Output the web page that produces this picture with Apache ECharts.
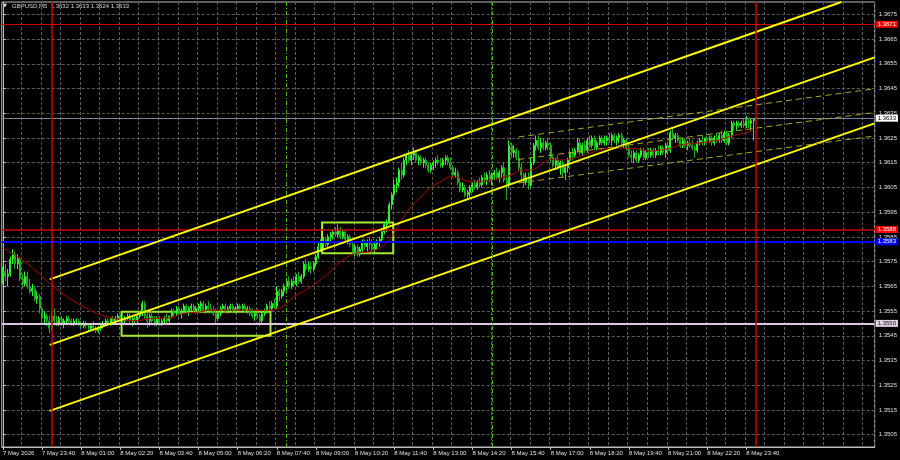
<!DOCTYPE html>
<html><head><meta charset="utf-8">
<script src="https://cdn.jsdelivr.net/npm/echarts@6/dist/echarts.min.js"></script>
<style>html,body{margin:0;padding:0;background:#000;}#c{width:900px;height:460px;}</style>
</head><body><div id="c"></div>
<script>
// ---- data (GBPUSD M5, bar 0 = 7 May 22:20) ----
const opens = [
1.3568,1.3571,1.3569,1.3570,1.3576,1.3578,1.3574,1.3576,1.3568,1.3566,
1.3569,1.3565,1.3563,1.3564,1.3560,1.3561,1.3556,1.3552,1.3553,1.3551,
1.3548,1.3553,1.3551,1.3550,1.3552,1.3550,1.3551,1.3552,1.3551,1.3550,
1.3551,1.3551,1.3550,1.3549,1.3550,1.3549,1.3548,1.3549,1.3548,1.3547,
1.3548,1.3549,1.3550,1.3551,1.3550,1.3552,1.3551,1.3552,1.3553,1.3552,
1.3551,1.3552,1.3553,1.3551,1.3552,1.3551,1.3553,1.3554,1.3558,1.3553,
1.3551,1.3553,1.3551,1.3550,1.3552,1.3550,1.3551,1.3552,1.3551,1.3553,
1.3555,1.3554,1.3556,1.3554,1.3555,1.3557,1.3555,1.3556,1.3557,1.3555,
1.3556,1.3557,1.3558,1.3555,1.3557,1.3556,1.3555,1.3554,1.3552,1.3554,
1.3556,1.3557,1.3555,1.3556,1.3557,1.3555,1.3556,1.3557,1.3556,1.3557,
1.3555,1.3556,1.3554,1.3553,1.3554,1.3553,1.3551,1.3554,1.3555,1.3557,
1.3556,1.3558,1.3557,1.3563,1.3561,1.3563,1.3565,1.3567,1.3565,1.3567,
1.3566,1.3569,1.3567,1.3569,1.3574,1.3572,1.3573,1.3572,1.3574,1.3577,
1.3581,1.3582,1.3584,1.3582,1.3585,1.3586,1.3587,1.3586,1.3588,1.3585,
1.3587,1.3584,1.3585,1.3582,1.3579,1.3581,1.3578,1.3580,1.3583,1.3581,
1.3583,1.3582,1.3580,1.3582,1.3583,1.3584,1.3587,1.3590,1.3591,1.3598,
1.3602,1.3606,1.3607,1.3612,1.3610,1.3616,1.3618,1.3616,1.3618,1.3619,
1.3616,1.3617,1.3615,1.3616,1.3614,1.3612,1.3614,1.3615,1.3616,1.3615,
1.3614,1.3616,1.3617,1.3615,1.3613,1.3610,1.3611,1.3607,1.3604,1.3605,
1.3602,1.3603,1.3605,1.3606,1.3605,1.3607,1.3606,1.3609,1.3608,1.3610,
1.3608,1.3610,1.3611,1.3609,1.3611,1.3613,1.3608,1.3606,1.3622,1.3619,
1.3620,1.3617,1.3613,1.3610,1.3607,1.3609,1.3606,1.3615,1.3622,1.3624,
1.3621,1.3623,1.3621,1.3623,1.3622,1.3617,1.3614,1.3616,1.3613,1.3615,
1.3611,1.3613,1.3616,1.3619,1.3618,1.3620,1.3623,1.3619,1.3622,1.3620,
1.3624,1.3622,1.3625,1.3621,1.3623,1.3625,1.3623,1.3624,1.3625,1.3624,
1.3626,1.3624,1.3625,1.3626,1.3623,1.3624,1.3621,1.3618,1.3617,1.3619,
1.3616,1.3618,1.3620,1.3617,1.3619,1.3618,1.3620,1.3618,1.3620,1.3619,
1.3621,1.3619,1.3622,1.3620,1.3627,1.3625,1.3626,1.3624,1.3622,1.3624,
1.3622,1.3623,1.3622,1.3621,1.3620,1.3623,1.3624,1.3623,1.3625,1.3624,
1.3625,1.3623,1.3625,1.3624,1.3626,1.3624,1.3627,1.3623,1.3626,1.3631,
1.3630,1.3631,1.3630,1.3631,1.3630,1.3632,1.3631,1.3632];
const highs = [
1.3573,1.3574,1.3572,1.3577,1.3580,1.3579,1.3578,1.3577,1.3570,1.3571,
1.3571,1.3568,1.3566,1.3565,1.3563,1.3562,1.3557,1.3555,1.3554,1.3553,
1.3555,1.3556,1.3553,1.3553,1.3553,1.3552,1.3553,1.3553,1.3552,1.3552,
1.3552,1.3552,1.3551,1.3551,1.3551,1.3550,1.3550,1.3551,1.3549,1.3549,
1.3550,1.3551,1.3552,1.3552,1.3552,1.3553,1.3553,1.3554,1.3554,1.3554,
1.3553,1.3554,1.3554,1.3553,1.3553,1.3554,1.3555,1.3559,1.3559,1.3555,
1.3554,1.3555,1.3553,1.3553,1.3553,1.3552,1.3553,1.3554,1.3553,1.3556,
1.3556,1.3557,1.3557,1.3556,1.3558,1.3558,1.3557,1.3558,1.3558,1.3557,
1.3558,1.3559,1.3559,1.3558,1.3559,1.3558,1.3557,1.3556,1.3555,1.3557,
1.3558,1.3558,1.3557,1.3558,1.3558,1.3557,1.3558,1.3558,1.3558,1.3558,
1.3557,1.3557,1.3556,1.3555,1.3556,1.3554,1.3555,1.3556,1.3558,1.3559,
1.3559,1.3560,1.3565,1.3564,1.3564,1.3566,1.3568,1.3569,1.3568,1.3569,
1.3570,1.3571,1.3570,1.3575,1.3576,1.3575,1.3575,1.3575,1.3578,1.3583,
1.3584,1.3585,1.3585,1.3586,1.3587,1.3588,1.3589,1.3590,1.3589,1.3588,
1.3588,1.3586,1.3586,1.3583,1.3582,1.3582,1.3581,1.3584,1.3584,1.3584,
1.3585,1.3584,1.3583,1.3584,1.3585,1.3588,1.3591,1.3592,1.3599,1.3603,
1.3608,1.3609,1.3613,1.3615,1.3617,1.3619,1.3620,1.3619,1.3621,1.3620,
1.3618,1.3618,1.3617,1.3617,1.3615,1.3615,1.3616,1.3617,1.3618,1.3617,
1.3617,1.3618,1.3618,1.3617,1.3614,1.3613,1.3612,1.3609,1.3607,1.3606,
1.3604,1.3606,1.3607,1.3608,1.3608,1.3609,1.3610,1.3611,1.3611,1.3612,
1.3611,1.3612,1.3613,1.3612,1.3614,1.3615,1.3610,1.3624,1.3623,1.3622,
1.3621,1.3620,1.3615,1.3611,1.3611,1.3611,1.3617,1.3623,1.3626,1.3626,
1.3625,1.3625,1.3624,1.3625,1.3623,1.3618,1.3617,1.3618,1.3616,1.3616,
1.3614,1.3617,1.3620,1.3621,1.3621,1.3625,1.3625,1.3623,1.3624,1.3625,
1.3626,1.3626,1.3626,1.3624,1.3626,1.3626,1.3626,1.3626,1.3627,1.3627,
1.3627,1.3626,1.3627,1.3627,1.3625,1.3625,1.3622,1.3620,1.3620,1.3620,
1.3619,1.3621,1.3621,1.3620,1.3621,1.3621,1.3621,1.3621,1.3622,1.3622,
1.3622,1.3623,1.3623,1.3628,1.3629,1.3627,1.3627,1.3625,1.3625,1.3625,
1.3624,1.3625,1.3624,1.3622,1.3624,1.3625,1.3626,1.3625,1.3626,1.3626,
1.3626,1.3626,1.3627,1.3627,1.3628,1.3628,1.3628,1.3627,1.3632,1.3632,
1.3632,1.3632,1.3632,1.3633,1.3634,1.3633,1.3633,1.3633];
const lows = [
1.3566,1.3567,1.3565,1.3569,1.3574,1.3572,1.3572,1.3567,1.3564,1.3565,
1.3564,1.3562,1.3561,1.3559,1.3558,1.3554,1.3550,1.3550,1.3549,1.3546,
1.3547,1.3550,1.3549,1.3549,1.3549,1.3548,1.3550,1.3550,1.3549,1.3549,
1.3550,1.3549,1.3548,1.3548,1.3548,1.3547,1.3547,1.3547,1.3546,1.3546,
1.3547,1.3548,1.3549,1.3549,1.3549,1.3550,1.3550,1.3551,1.3551,1.3550,
1.3550,1.3551,1.3550,1.3549,1.3550,1.3550,1.3552,1.3553,1.3552,1.3548,
1.3549,1.3550,1.3549,1.3549,1.3549,1.3549,1.3550,1.3550,1.3550,1.3552,
1.3553,1.3553,1.3553,1.3552,1.3554,1.3554,1.3553,1.3555,1.3554,1.3554,
1.3555,1.3555,1.3554,1.3554,1.3555,1.3554,1.3553,1.3550,1.3551,1.3553,
1.3555,1.3554,1.3554,1.3555,1.3554,1.3554,1.3555,1.3555,1.3555,1.3554,
1.3554,1.3553,1.3552,1.3551,1.3552,1.3549,1.3550,1.3553,1.3554,1.3555,
1.3555,1.3556,1.3556,1.3559,1.3560,1.3561,1.3563,1.3564,1.3564,1.3565,
1.3565,1.3566,1.3566,1.3568,1.3571,1.3571,1.3570,1.3571,1.3573,1.3576,
1.3579,1.3580,1.3581,1.3581,1.3583,1.3584,1.3585,1.3585,1.3584,1.3584,
1.3583,1.3582,1.3581,1.3578,1.3577,1.3577,1.3577,1.3579,1.3580,1.3579,
1.3580,1.3578,1.3578,1.3580,1.3581,1.3583,1.3586,1.3587,1.3590,1.3596,
1.3600,1.3603,1.3605,1.3608,1.3609,1.3614,1.3615,1.3614,1.3616,1.3615,
1.3614,1.3614,1.3613,1.3613,1.3611,1.3611,1.3612,1.3613,1.3614,1.3613,
1.3613,1.3614,1.3614,1.3612,1.3609,1.3609,1.3606,1.3603,1.3603,1.3601,
1.3600,1.3601,1.3603,1.3604,1.3604,1.3605,1.3605,1.3607,1.3606,1.3607,
1.3606,1.3608,1.3608,1.3607,1.3609,1.3607,1.3600,1.3605,1.3617,1.3617,
1.3616,1.3612,1.3608,1.3605,1.3606,1.3604,1.3605,1.3614,1.3620,1.3620,
1.3619,1.3620,1.3620,1.3620,1.3615,1.3613,1.3612,1.3612,1.3610,1.3609,
1.3608,1.3611,1.3615,1.3616,1.3617,1.3619,1.3618,1.3618,1.3619,1.3619,
1.3621,1.3621,1.3620,1.3620,1.3622,1.3622,1.3622,1.3622,1.3623,1.3622,
1.3623,1.3622,1.3623,1.3622,1.3621,1.3620,1.3617,1.3615,1.3615,1.3615,
1.3615,1.3617,1.3616,1.3616,1.3617,1.3617,1.3617,1.3617,1.3618,1.3618,
1.3618,1.3617,1.3618,1.3619,1.3624,1.3623,1.3623,1.3621,1.3621,1.3621,
1.3620,1.3621,1.3620,1.3617,1.3619,1.3622,1.3622,1.3622,1.3623,1.3623,
1.3622,1.3622,1.3623,1.3623,1.3623,1.3623,1.3622,1.3622,1.3625,1.3628,
1.3628,1.3629,1.3629,1.3629,1.3629,1.3629,1.3628,1.3624];
const closes = [
1.3571,1.3569,1.3570,1.3576,1.3578,1.3574,1.3576,1.3568,1.3566,1.3569,
1.3565,1.3563,1.3564,1.3560,1.3561,1.3556,1.3552,1.3553,1.3551,1.3548,
1.3553,1.3551,1.3550,1.3552,1.3550,1.3551,1.3552,1.3551,1.3550,1.3551,
1.3551,1.3550,1.3549,1.3550,1.3549,1.3548,1.3549,1.3548,1.3547,1.3548,
1.3549,1.3550,1.3551,1.3550,1.3552,1.3551,1.3552,1.3553,1.3552,1.3551,
1.3552,1.3553,1.3551,1.3552,1.3551,1.3553,1.3554,1.3558,1.3553,1.3551,
1.3553,1.3551,1.3550,1.3552,1.3550,1.3551,1.3552,1.3551,1.3553,1.3555,
1.3554,1.3556,1.3554,1.3555,1.3557,1.3555,1.3556,1.3557,1.3555,1.3556,
1.3557,1.3558,1.3555,1.3557,1.3556,1.3555,1.3554,1.3552,1.3554,1.3556,
1.3557,1.3555,1.3556,1.3557,1.3555,1.3556,1.3557,1.3556,1.3557,1.3555,
1.3556,1.3554,1.3553,1.3554,1.3553,1.3551,1.3554,1.3555,1.3557,1.3556,
1.3558,1.3557,1.3563,1.3561,1.3563,1.3565,1.3567,1.3565,1.3567,1.3566,
1.3569,1.3567,1.3569,1.3574,1.3572,1.3573,1.3572,1.3574,1.3577,1.3581,
1.3582,1.3584,1.3582,1.3585,1.3586,1.3587,1.3586,1.3588,1.3585,1.3587,
1.3584,1.3585,1.3582,1.3579,1.3581,1.3578,1.3580,1.3583,1.3581,1.3583,
1.3582,1.3580,1.3582,1.3583,1.3584,1.3587,1.3590,1.3591,1.3598,1.3602,
1.3606,1.3607,1.3612,1.3610,1.3616,1.3618,1.3616,1.3618,1.3619,1.3616,
1.3617,1.3615,1.3616,1.3614,1.3612,1.3614,1.3615,1.3616,1.3615,1.3614,
1.3616,1.3617,1.3615,1.3613,1.3610,1.3611,1.3607,1.3604,1.3605,1.3602,
1.3603,1.3605,1.3606,1.3605,1.3607,1.3606,1.3609,1.3608,1.3610,1.3608,
1.3610,1.3611,1.3609,1.3611,1.3613,1.3608,1.3606,1.3622,1.3619,1.3620,
1.3617,1.3613,1.3610,1.3607,1.3609,1.3606,1.3615,1.3622,1.3624,1.3621,
1.3623,1.3621,1.3623,1.3622,1.3617,1.3614,1.3616,1.3613,1.3615,1.3611,
1.3613,1.3616,1.3619,1.3618,1.3620,1.3623,1.3619,1.3622,1.3620,1.3624,
1.3622,1.3625,1.3621,1.3623,1.3625,1.3623,1.3624,1.3625,1.3624,1.3626,
1.3624,1.3625,1.3626,1.3623,1.3624,1.3621,1.3618,1.3617,1.3619,1.3616,
1.3618,1.3620,1.3617,1.3619,1.3618,1.3620,1.3618,1.3620,1.3619,1.3621,
1.3619,1.3622,1.3620,1.3627,1.3625,1.3626,1.3624,1.3622,1.3624,1.3622,
1.3623,1.3622,1.3621,1.3620,1.3623,1.3624,1.3623,1.3625,1.3624,1.3625,
1.3623,1.3625,1.3624,1.3626,1.3624,1.3627,1.3623,1.3626,1.3631,1.3630,
1.3631,1.3630,1.3631,1.3630,1.3632,1.3631,1.3632,1.3633];

// moving average: [bar, value]
const maPoints = [[0,1.35805],[2,1.35794],[8,1.35756],[13,1.35716],[20,1.35655],[27,1.35603],[34,1.35562],[40,1.35534],[47,1.35518],[54,1.35511],[61,1.3552],[69,1.35524],[73,1.35538],[81,1.35547],[85,1.35554],[93,1.35554],[102,1.35554],[110,1.35553],[114,1.35567],[119,1.35608],[126,1.35648],[133,1.35702],[138,1.35749],[144,1.35783],[150,1.3579],[155,1.3581],[159,1.3585],[163,1.35918],[167,1.35972],[171,1.36012],[175,1.3605],[179,1.36073],[183,1.36093],[187,1.36087],[191,1.36073],[195,1.36073],[199,1.3608],[203,1.36087],[208,1.361],[212,1.3612],[216,1.3612],[220,1.36141],[224,1.36163],[228,1.36161],[232,1.36165],[240,1.36188],[248,1.36208],[257,1.36208],[265,1.36197],[269,1.36201],[273,1.36208],[277,1.36222],[285,1.3623],[293,1.36242],[297,1.36255],[305,1.36275],[307,1.3628]];

const timeLabels = ['7 May 2026','7 May 23:40','8 May 01:00','8 May 02:20','8 May 03:40','8 May 05:00','8 May 06:20','8 May 07:40','8 May 09:00','8 May 10:20','8 May 11:40','8 May 13:00','8 May 14:20','8 May 15:40','8 May 17:00','8 May 18:20','8 May 19:40','8 May 21:00','8 May 22:20','8 May 23:40'];
const priceTicks = [1.3505,1.3515,1.3525,1.3535,1.3545,1.3555,1.3565,1.3575,1.3585,1.3595,1.3605,1.3615,1.3625,1.3635,1.3645,1.3655,1.3665,1.3675];
const barsPerLabel = 16, barsPerGrid = 8, totalSlots = 357;

// drawn objects (bar index, price)
const trendUpper = [[19.1,1.35678],[342.9,1.3680]];
const trendMiddle = [[19.1,1.35413],[356.5,1.36576]];
const trendLower = [[19.1,1.35146],[356.5,1.36309]];
const chanUpper = [[210.8,1.36254],[356.5,1.36449]];
const chanMiddle = [[210.8,1.36163],[356.5,1.36353]];
const chanLower = [[210.8,1.36068],[356.5,1.36258]];
const dayBreaks = [20, 308];
const sessionLines = [116, 200];
const boxes = [[[48.5,1.35547],[109.4,1.3545]],[[130.5,1.35908],[159.6,1.35784]]];
const levelRed1 = 1.3671, levelRed2 = 1.3588, levelBlue = 1.3583, levelPink = 1.3550, levelBid = 1.3633;
const titleText = 'GBPUSD,M5  1.3632 1.3633 1.3624 1.3633';

// ---- chart ----
const FONT = 'Liberation Sans, Arial, sans-serif';
const slots = Array.from({length: totalSlots}, (_, i) => String(i));
const candles = opens.map((o, i) => [o, closes[i], lows[i], highs[i]]);

function lvl(v, lineColor, width, bg, fg) {
  return {
    yAxis: v,
    lineStyle: {color: lineColor, width: width, type: 'solid'},
    label: {show: true, position: 'end', distance: 1, formatter: v.toFixed(4),
      backgroundColor: bg, color: fg, fontSize: 6, fontFamily: FONT, padding: [1, 2, 0, 2]}
  };
}
function seg(pts, color, width, type, extra) {
  return Object.assign({type: 'line', xAxisIndex: 1, yAxisIndex: 0, data: pts, symbol: 'none', silent: true,
    lineStyle: {color: color, width: width, type: type}, z: 4, animation: false}, extra || {});
}

const chart = echarts.init(document.getElementById('c'), null, {renderer: 'canvas'});
chart.setOption({
  backgroundColor: '#000',
  animation: false,
  grid: {left: 0, right: 25, top: 2, bottom: 13, show: true, borderColor: '#bdbdbd', borderWidth: 1, backgroundColor: '#000'},
  xAxis: [{
    type: 'category', data: slots, boundaryGap: true, gridIndex: 0,
    axisLine: {show: true, lineStyle: {color: '#bdbdbd', width: 1}},
    axisTick: {show: true, alignWithLabel: true, length: 3, lineStyle: {color: '#bdbdbd'},
      interval: (i) => i % barsPerLabel === 0 && i / barsPerLabel < timeLabels.length},
    axisLabel: {show: true, color: '#e0e0e0', fontSize: 6, fontFamily: FONT, align: 'left', margin: 3,
      interval: (i) => i % barsPerLabel === 0 && i / barsPerLabel < timeLabels.length,
      formatter: (v) => timeLabels[parseInt(v, 10) / barsPerLabel] || ''},
    splitLine: {show: true, interval: (i) => i % barsPerGrid === 0 && i > 0,
      lineStyle: {color: '#5c5c5c', width: 1, type: [3, 2]}}
  }, {
    type: 'value', gridIndex: 0, min: -0.5, max: totalSlots - 0.5, show: false
  }],
  yAxis: [{
    type: 'value', position: 'right', min: 1.3500, max: 1.3680, gridIndex: 0,
    axisLine: {show: true, lineStyle: {color: '#bdbdbd'}},
    axisTick: {show: true, length: 3, customValues: priceTicks, lineStyle: {color: '#bdbdbd'}},
    axisLabel: {show: true, customValues: priceTicks, color: '#e0e0e0', fontSize: 6, fontFamily: FONT, margin: 4,
      formatter: (v) => Number(v).toFixed(4)},
    splitLine: {show: true, lineStyle: {color: '#5c5c5c', width: 1, type: [3, 2]}}
  }],
  graphic: [
    {type: 'text', left: 3, top: 3, style: {text: '\u25BC', fill: '#e0e0e0', font: '5px DejaVu Sans'}},
    {type: 'text', left: 12, top: 3, style: {text: titleText, fill: '#d8d8d8', font: '6px ' + FONT}}
  ],
  series: [
    {
      type: 'candlestick', xAxisIndex: 0, yAxisIndex: 0, data: candles, barWidth: 1.5, z: 2, silent: true,
      itemStyle: {color: '#7dff6a', color0: '#22a822', borderColor: '#2cf02c', borderColor0: '#22a822', borderWidth: 1}
    },
    {
      type: 'line', xAxisIndex: 1, yAxisIndex: 0, data: maPoints, symbol: 'none', smooth: 0.4, silent: true,
      lineStyle: {color: '#b00000', width: 1}, z: 3,
      markLine: {
        silent: true, symbol: 'none', animation: false, label: {show: false}, precision: 6,
        data: dayBreaks.map(b => ({xAxis: b, lineStyle: {color: '#d00000', width: 1.5, type: 'solid'}}))
          .concat(sessionLines.map(b => ({xAxis: b, lineStyle: {color: '#46b400', width: 1, type: [4, 2, 1, 2]}})))
      },
      markArea: {
        silent: true, animation: false, label: {show: false},
        itemStyle: {color: 'rgba(0,0,0,0)', borderColor: '#a6e830', borderWidth: 2},
        data: boxes.map(b => [{coord: b[0]}, {coord: b[1]}])
      }
    },
    seg(trendUpper, '#ffff00', 2, 'solid', {
      markLine: {
        silent: true, symbol: 'none', animation: false, z: 3, precision: 6,
        data: [
          lvl(levelRed1, '#d00000', 1, '#ff0000', '#ffffff'),
          lvl(levelRed2, '#d00000', 1.5, '#ff0000', '#ffffff'),
          lvl(levelBlue, '#0000ff', 2, '#0000ff', '#ffffff'),
          lvl(levelPink, '#dcc8e0', 2, '#e2cfe4', '#202020'),
          lvl(levelBid, '#7a8899', 1, '#ffffff', '#000000')
        ]
      }
    }),
    seg(trendMiddle, '#ffff00', 2, 'solid'),
    seg(trendLower, '#ffff00', 2, 'solid'),
    seg(chanUpper, '#a8a81c', 1, [6, 4]),
    seg(chanMiddle, '#a8a81c', 1, [6, 4]),
    seg(chanLower, '#a8a81c', 1, [6, 4])
  ]
});
</script></body></html>
